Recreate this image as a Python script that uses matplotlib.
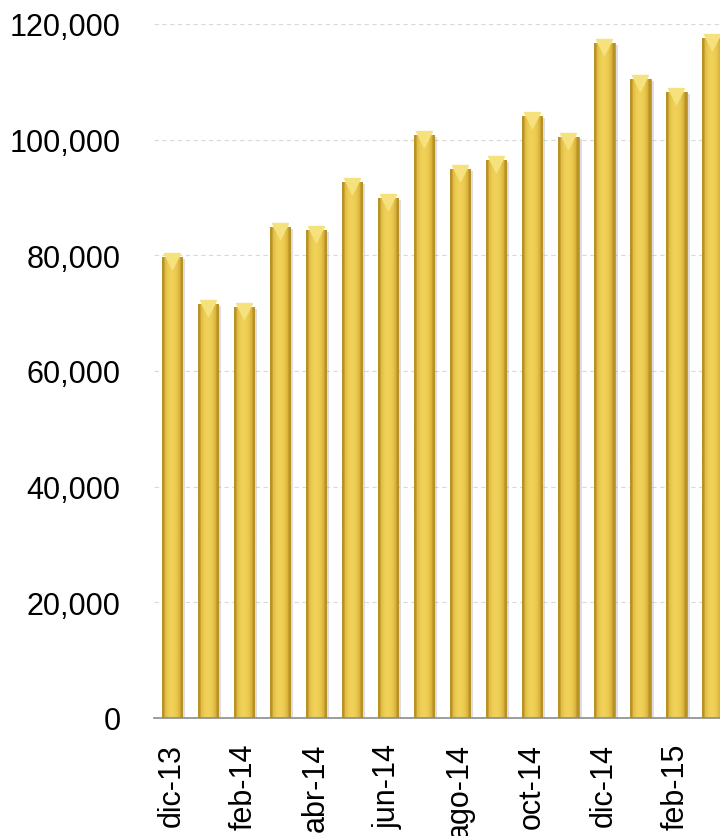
import numpy as np
import matplotlib
matplotlib.use('Agg')
import matplotlib.pyplot as plt
import matplotlib.transforms as mtransforms
from matplotlib.ticker import FuncFormatter, MultipleLocator

months = ['dic-13', 'ene-14', 'feb-14', 'mar-14', 'abr-14', 'may-14', 'jun-14', 'jul-14',
          'ago-14', 'sep-14', 'oct-14', 'nov-14', 'dic-14', 'ene-15', 'feb-15', 'mar-15']
values = [79700, 71600, 71100, 84900, 84400, 92700, 89900, 100800,
          94900, 96500, 104100, 100500, 116700, 110500, 108200, 117600]

plt.rcParams['font.family'] = ['Liberation Sans', 'DejaVu Sans']

fig = plt.figure(figsize=(7.2, 8.37), dpi=100)
ax = fig.add_axes([154 / 720, 1 - 719 / 837, 1 - 154 / 720, (719 - 25) / 837])

x = np.arange(len(months))
width = 0.58

# soft shadow to the right of each bar
shadow = mtransforms.offset_copy(ax.transData, fig=fig, x=3, y=-2, units='dots')
ax.bar(x, values, width=width, color='#7f7f7f', alpha=0.25, transform=shadow, zorder=2)

bars = ax.bar(x, values, width=width, color='#EACB4C', edgecolor='#B8962C',
              linewidth=0.6, zorder=3)

# horizontal shading inside each bar
grad = np.array([[0.0, 0.6, 0.9, 1.0, 0.95, 0.8, 0.45, 0.0]])
cmap = matplotlib.colors.LinearSegmentedColormap.from_list(
    'gold', ['#B89226', '#E0BC42', '#F1D159'])
for b in bars:
    im = ax.imshow(grad, cmap=cmap, aspect='auto', zorder=4,
                   extent=[b.get_x(), b.get_x() + b.get_width(), 0, b.get_height()])
    im.set_clip_path(b)

# light bevel triangle at the top of each bar
tip = mtransforms.offset_copy(ax.transData, fig=fig, x=0, y=-4, units='dots')
ax.plot(x, values, linestyle='none', marker='v', markersize=12,
        color='#F6E27C', markeredgecolor='#F6E27C', transform=tip, zorder=5)

ax.set_ylim(0, 120000)
ax.set_xlim(-0.5, 15.22)
ax.yaxis.set_major_locator(MultipleLocator(20000))
ax.yaxis.set_major_formatter(FuncFormatter(lambda v, p: f'{int(v):,}'))
ax.grid(axis='y', color='#d9d9d9', linestyle=(0, (4, 3)), linewidth=0.8, zorder=0)

ax.set_xticks(x[::2])
ax.set_xticklabels(months[::2], rotation=90)
ax.tick_params(axis='x', length=0, pad=18, labelsize=22)
ax.tick_params(axis='y', length=0, pad=24, labelsize=22)

for s in ['top', 'right', 'left']:
    ax.spines[s].set_visible(False)
ax.spines['bottom'].set_color('#8c8c8c')
ax.spines['bottom'].set_linewidth(1.2)
ax.spines['bottom'].set_zorder(6)

fig.savefig('out.png', dpi=100)
